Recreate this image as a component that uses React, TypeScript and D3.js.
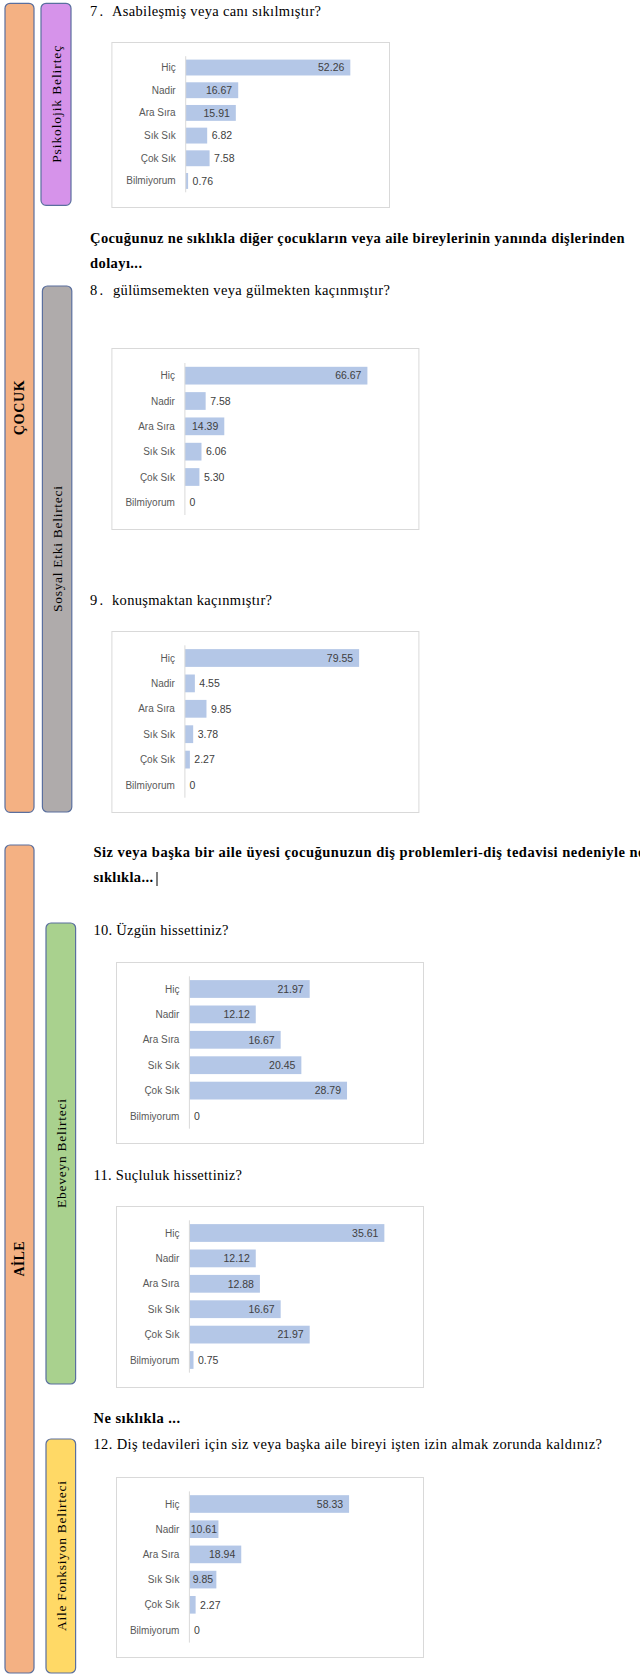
import React from 'react';
import * as d3 from 'd3';

const categories = ['Hiç', 'Nadir', 'Ara Sıra', 'Sık Sık', 'Çok Sık', 'Bilmiyorum'];

const q7Values = [52.26, 16.67, 15.91, 6.82, 7.58, 0.76];
const q8Values = [66.67, 7.58, 14.39, 6.06, 5.3, 0];
const q9Values = [79.55, 4.55, 9.85, 3.78, 2.27, 0];
const q10Values = [21.97, 12.12, 16.67, 20.45, 28.79, 0];
const q11Values = [35.61, 12.12, 12.88, 16.67, 21.97, 0.75];
const q12Values = [58.33, 10.61, 18.94, 9.85, 2.27, 0];

// max of the (hidden) value axis of each chart
const axisMax = [60, 80, 100, 40, 40, 80];

const SERIF = '"Liberation Serif", "Times New Roman", serif';
const SANS = '"Liberation Sans", Arial, sans-serif';
const BAR = '#b4c7e7';
const EDGE = '#5a6f9e';

// chart frames (layout only)
const charts = [
  { values: q7Values, box: [111.4, 42, 277.6, 165], axisX: 185.7, band: [56.2, 192.3] },
  { values: q8Values, box: [111.4, 348, 307, 181], axisX: 184.9, band: [363, 515] },
  { values: q9Values, box: [111.4, 631, 307, 181], axisX: 184.9, band: [645.3, 797.7] },
  { values: q10Values, box: [116, 962, 307, 181], axisX: 189.4, band: [976.3, 1128.7] },
  { values: q11Values, box: [116, 1206, 307, 181], axisX: 189.4, band: [1220.3, 1372.7] },
  { values: q12Values, box: [116, 1477, 307, 180], axisX: 189.4, band: [1491.4, 1642.6] },
];

const fmt = (v: number) => (v === 0 ? '0' : v.toFixed(2));
const textW = (s: string, fs: number) =>
  s.split('').reduce((a, c) => a + (c === '.' ? 0.278 : 0.556), 0) * fs;

function BarChart({ values, box, axisX, band, max }: any) {
  const [bx, by, bw, bh] = box;
  const x = d3.scaleLinear().domain([0, max]).range([axisX, axisX + 219 * (max === 60 ? 189 / 219 : 1)]);
  const y = d3.scaleBand<string>().domain(categories).range(band).paddingInner(0.3).paddingOuter(0.15);
  return (
    <g>
      <rect x={bx + 0.5} y={by + 0.5} width={bw} height={bh} fill="#fff" stroke="#d9d9d9" strokeWidth={1} />
      {categories.map((c, i) => {
        const v = values[i];
        const end = x(v);
        const w = end - axisX;
        const label = fmt(v);
        const tw = textW(label, 10.5);
        const cy = (y(c) as number) + y.bandwidth() / 2;
        const inside = w >= 25;
        const lx = inside ? end - Math.min(6, Math.max(1, (w - tw) / 2)) : end + 4.5;
        return (
          <g key={c}>
            <rect x={axisX} y={y(c)} width={w} height={y.bandwidth()} fill={BAR} />
            <text x={axisX - 10} y={cy} dy="0.35em" textAnchor="end" fontFamily={SANS} fontSize={10} fill="#595959">
              {c}
            </text>
            <text x={lx} y={cy} dy="0.36em" textAnchor={inside ? 'end' : 'start'} fontFamily={SANS} fontSize={10.5} fill="#404040">
              {label}
            </text>
          </g>
        );
      })}
      <line x1={axisX} x2={axisX} y1={band[0]} y2={band[1]} stroke="#d9d9d9" strokeWidth={1} />
    </g>
  );
}

function SideTab({ x, y, w, h, fill, label, len, bold, size }: any) {
  const cx = x + w / 2;
  const cy = y + h / 2;
  return (
    <g>
      <rect x={x} y={y} width={w} height={h} rx={5} fill={fill} stroke={EDGE} strokeWidth={1.2} />
      <text
        transform={`translate(${cx + size * 0.35},${cy}) rotate(-90)`}
        textAnchor="middle"
        fontFamily={SERIF}
        fontWeight={bold ? 'bold' : 'normal'}
        fontSize={size}
        textLength={len}
        lengthAdjust="spacing"
        fill="#000"
      >
        {label}
      </text>
    </g>
  );
}

function Line({ x, y, w, children, bold }: any) {
  return (
    <text x={x} y={y} fontFamily={SERIF} fontSize={14.5} fontWeight={bold ? 'bold' : 'normal'} textLength={w} lengthAdjust="spacing" fill="#000">
      {children}
    </text>
  );
}

export default function App() {
  return (
    <div style={{ position: 'absolute', left: 0, top: 0 }}>
      <svg width={640} height={1674} style={{ display: 'block', background: '#fff' }}>
        {/* left tabs */}
        <SideTab x={5} y={3.3} w={29} h={809} fill="#f4b183" label="ÇOCUK" len={55} bold size={14} />
        <SideTab x={41} y={3.3} w={30} h={202} fill="#d693ea" label="Psikolojik Belirteç" len={117} size={13.5} />
        <SideTab x={42.4} y={286} w={29.4} h={526} fill="#afabab" label="Sosyal Etki Belirteci" len={126} size={13.5} />
        <SideTab x={5} y={845} w={29} h={828} fill="#f4b183" label="AİLE" len={35} bold size={14} />
        <SideTab x={46} y={923} w={29.6} h={461} fill="#a9d18e" label="Ebeveyn Belirteci" len={109} size={13.5} />
        <SideTab x={46} y={1439} w={29.6} h={234} fill="#ffd966" label="Aile Fonksiyon Belirteci" len={150} size={13.5} />

        {/* text */}
        <Line x={90} y={16} w={13}>7.</Line>
        <Line x={112} y={16} w={209}>Asabileşmiş  veya canı sıkılmıştır?</Line>
        <Line x={90} y={243} w={534.5} bold>Çocuğunuz ne sıklıkla diğer çocukların veya aile bireylerinin yanında dişlerinden</Line>
        <Line x={90} y={268} w={52} bold>dolayı...</Line>
        <Line x={90} y={295} w={13}>8.</Line>
        <Line x={113} y={295} w={277}>gülümsemekten  veya gülmekten kaçınmıştır?</Line>
        <Line x={90} y={605} w={13}>9.</Line>
        <Line x={112} y={605} w={160}>konuşmaktan  kaçınmıştır?</Line>
        <Line x={93.5} y={857} w={551} bold>Siz veya başka bir aile üyesi çocuğunuzun diş problemleri-diş tedavisi nedeniyle ne</Line>
        <Line x={93.5} y={882} w={59.5} bold>sıklıkla...</Line>
        <line x1={157} x2={157} y1={872} y2={886} stroke="#000" strokeWidth={1} />
        <Line x={93.5} y={935} w={135}>10. Üzgün hissettiniz?</Line>
        <Line x={93.5} y={1180} w={148.5}>11. Suçluluk hissettiniz?</Line>
        <Line x={93.5} y={1423} w={86.5} bold>Ne sıklıkla ...</Line>
        <Line x={93.5} y={1449} w={508.5}>12. Diş tedavileri için siz veya başka aile bireyi işten izin almak zorunda kaldınız?</Line>

        {charts.map((c, i) => (
          <BarChart key={i} values={c.values} box={c.box} axisX={c.axisX} band={c.band} max={axisMax[i]} />
        ))}
      </svg>
    </div>
  );
}
